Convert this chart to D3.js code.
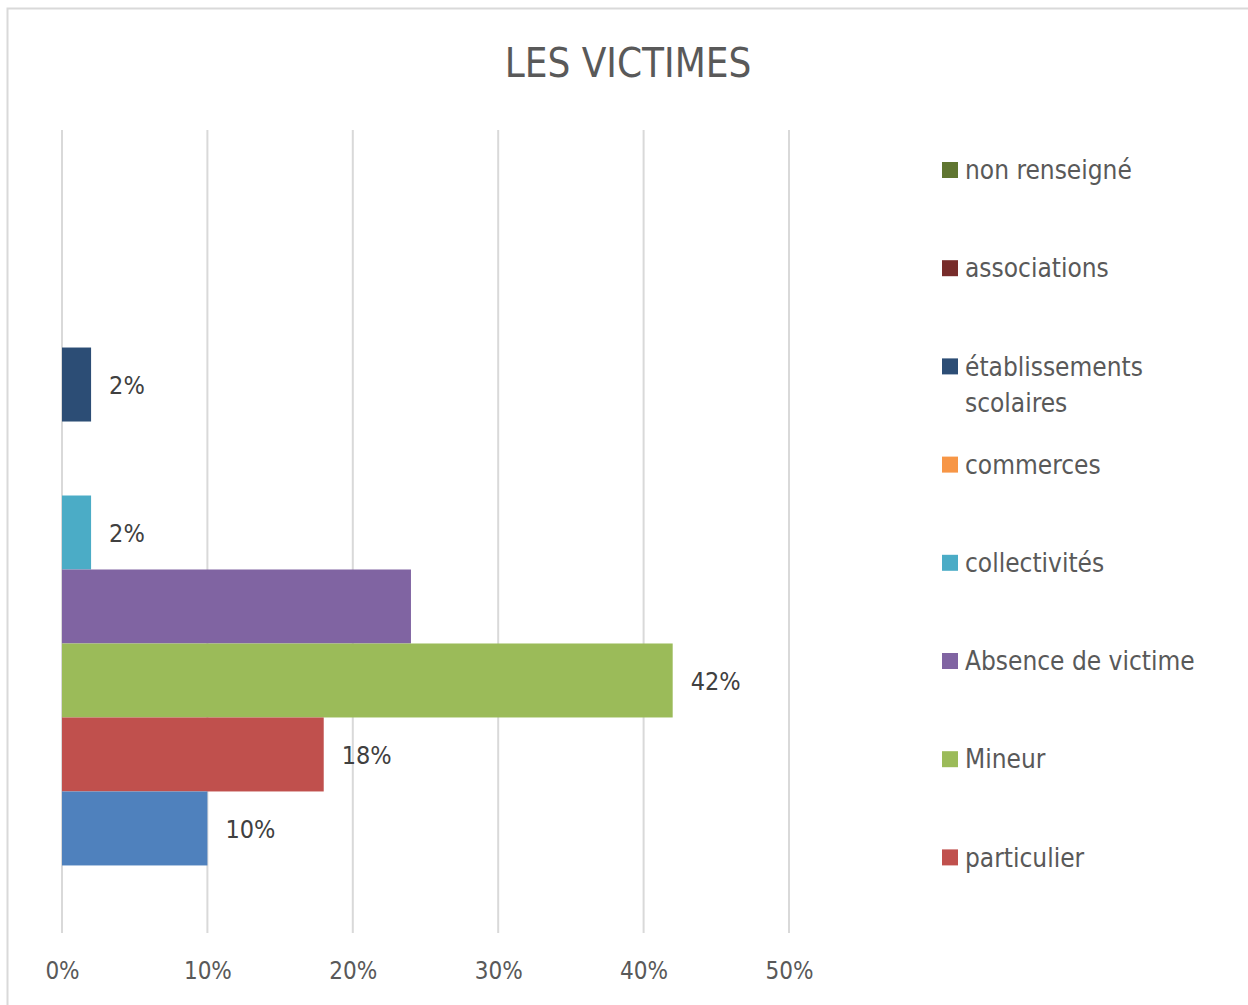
<!DOCTYPE html>
<html>
<head>
    <meta charset="utf-8" />
    <title>LES VICTIMES</title>
    <script src="https://cdn.jsdelivr.net/npm/d3@7"></script>
    <style>
        body { margin: 0; background: #fff; }
        text { font-family: "Liberation Sans Narrow", "DejaVu Sans Condensed", "Open Sans", sans-serif; }
    </style>
</head>
<body>
    <svg id="chart" width="1248" height="1005"></svg>
    <script>
        // series, top to bottom as drawn
        const series = ['non renseigné', 'associations', 'établissements scolaires', 'commerces',
            'collectivités', 'Absence de victime', 'Mineur', 'particulier', 'autre'];
        const values = [0, 0, 0.02, 0, 0.02, 0.24, 0.42, 0.18, 0.10];
        const showLabel = [false, false, true, false, true, false, true, true, true];
        const colors = ['#5f7530', '#772c2a', '#2c4d75', '#f79646', '#4bacc6', '#8064a2', '#9bbb59', '#c0504d', '#4f81bd'];
        const ticks = [0, 0.1, 0.2, 0.3, 0.4, 0.5];
        const legendCount = 8; // last entry is cut off in the original

        const svg = d3.select('#chart');

        // chart frame
        svg.append('rect')
            .attr('x', 7.5).attr('y', 8.5)
            .attr('width', 1260).attr('height', 1010)
            .style('fill', '#fff')
            .style('stroke', '#d9d9d9')
            .style('stroke-width', 2);

        svg.append('text')
            .attr('x', 628).attr('y', 77)
            .attr('text-anchor', 'middle')
            .style('font-size', '40px')
            .style('fill', '#595959')
            .text('LES VICTIMES');

        const x = d3.scaleLinear().domain([0, 0.5]).range([62, 789]);
        const y = d3.scaleBand().domain(series).range([130, 935])
            .paddingInner(0).paddingOuter(0.94);

        // gridlines
        svg.append('g')
            .selectAll('line')
            .data(ticks)
            .enter().append('line')
            .attr('x1', d => x(d)).attr('x2', d => x(d))
            .attr('y1', 130).attr('y2', 933)
            .style('stroke', '#d9d9d9')
            .style('stroke-width', 2);

        // x axis labels
        const axis = d3.axisBottom(x).tickValues(ticks).tickFormat(d3.format('.0%')).tickSize(0);
        const ax = svg.append('g').attr('transform', 'translate(0,959)').call(axis);
        ax.select('.domain').remove();
        ax.selectAll('text')
            .style('font-size', '24px')
            .style('font-family', '"Liberation Sans Narrow", "DejaVu Sans Condensed", sans-serif')
            .style('fill', '#595959');

        const data = series.map((s, i) => ({ name: s, value: values[i], color: colors[i], label: showLabel[i] }));

        svg.append('g')
            .selectAll('rect')
            .data(data)
            .enter().append('rect')
            .attr('x', x(0))
            .attr('y', d => y(d.name))
            .attr('width', d => x(d.value) - x(0))
            .attr('height', y.bandwidth())
            .style('fill', d => d.color);

        svg.append('g')
            .selectAll('text')
            .data(data.filter(d => d.label))
            .enter().append('text')
            .attr('x', d => x(d.value) + 18)
            .attr('y', d => y(d.name) + y.bandwidth() / 2)
            .attr('dy', '0.38em')
            .style('font-size', '25px')
            .style('fill', '#404040')
            .text(d => d3.format('.0%')(d.value));

        // legend
        const legend = svg.append('g')
            .selectAll('g')
            .data(data.slice(0, legendCount))
            .enter().append('g')
            .attr('transform', (d, i) => 'translate(942,' + (170 + i * 98.2) + ')');
        legend.append('rect')
            .attr('x', 0).attr('y', -8)
            .attr('width', 16).attr('height', 16)
            .style('fill', d => d.color);
        legend.append('text')
            .attr('x', 23)
            .style('font-size', '26px')
            .style('fill', '#595959')
            .each(function (d) {
                const words = d.name === 'établissements scolaires' ? ['établissements', 'scolaires'] : [d.name];
                d3.select(this).selectAll('tspan')
                    .data(words)
                    .enter().append('tspan')
                    .attr('x', 23)
                    .attr('dy', (w, i) => i === 0 ? '0.35em' : '1.4em')
                    .text(w => w);
            });
    </script>
</body>
</html>
